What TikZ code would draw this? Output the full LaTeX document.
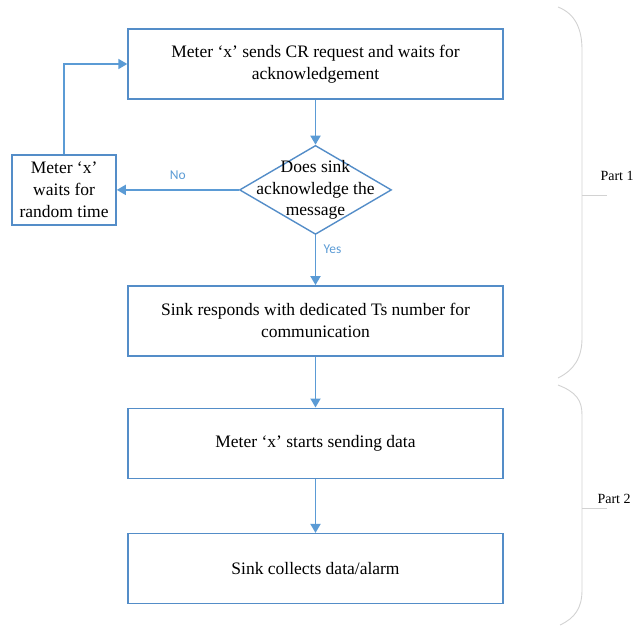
\documentclass[tikz,border=0pt]{standalone}
\usepackage{fontspec}
\setmainfont{Liberation Serif}
\newfontfamily\labelfont{Carlito}
\usetikzlibrary{arrows.meta,positioning,shapes.geometric}
\definecolor{flowblue}{RGB}{91,155,213}
\definecolor{boxblue}{RGB}{84,141,200}
\definecolor{bracegray}{RGB}{210,210,210}
\tikzset{
    %Define standard arrow tip
    >={Triangle[length=9pt,width=10pt]},
    %Define style for boxes
    stepbox/.style={
           rectangle,
           draw=boxblue, line width=1.4pt,
           minimum width=375pt,
           minimum height=70pt,
           align=center,
           font=\fontsize{17.5}{22}\selectfont},
    waitbox/.style={
           stepbox,
           minimum width=104pt},
    decision/.style={
           diamond,
           draw=boxblue, line width=1.4pt,
           minimum width=152pt,
           minimum height=89pt,
           inner sep=0pt},
    decisiontext/.style={
           align=center,
           font=\fontsize{17.5}{21.5}\selectfont},
    % Define arrow style
    pil/.style={
           ->,
           draw=flowblue,
           line width=1.8pt},
    answer/.style={
           font=\labelfont\fontsize{13.5}{16}\selectfont,
           text=flowblue},
    % Define style for the braces
    part/.style={
           draw=bracegray,
           line width=0.9pt},
    partlabel/.style={
           anchor=west,
           font=\fontsize{14}{16}\selectfont}
}
\begin{document}
\begin{tikzpicture}[x=1pt,y=-1pt,node distance=45pt]
\useasboundingbox (0,0) rectangle (644,626);
\node[stepbox] (req) at (315.5,64) {Meter ‘x’ sends CR request and waits for\\acknowledgement};
\node[decision, below=45pt of req] (ack) {};
\node[decisiontext] (acktext) at (ack) {Does sink\\acknowledge the\\message};
\node[stepbox, below=50pt of ack] (slot) {Sink responds with dedicated Ts number for\\communication};
\node[stepbox, below=51pt of slot] (send) {Meter ‘x’ starts sending data};
\node[stepbox, below=54pt of send] (collect) {Sink collects data/alarm};
\node[waitbox, left=122pt of ack] (wait) {Meter ‘x’\\waits for\\random time};
\draw[pil] (req) -- (ack);
\draw[pil] (ack) -- node[answer, pos=0.28, right=4pt] {Yes} (slot);
\draw[pil] (slot) -- (send);
\draw[pil] (send) -- (collect);
\draw[pil] (ack) -- node[answer, above=6pt] {No} (wait);
\draw[pil] (wait) |- (req);
% braces
\draw[part] (558,7) .. controls (576,14) and (582,30) .. (582,50) -- (582,338) .. controls (582,358) and (574,370) .. (558,378);
\draw[part] (582,195) -- (607,195);
\node[partlabel] (part1) at (597,176) {Part 1};
\draw[part] (558,385) .. controls (576,392) and (582,400) .. (582,415) -- (582,590) .. controls (582,608) and (575,618) .. (560,625);
\draw[part] (582,508) -- (607,508);
\node[partlabel] (part2) at (594,499) {Part 2};
\end{tikzpicture}
\end{document}
